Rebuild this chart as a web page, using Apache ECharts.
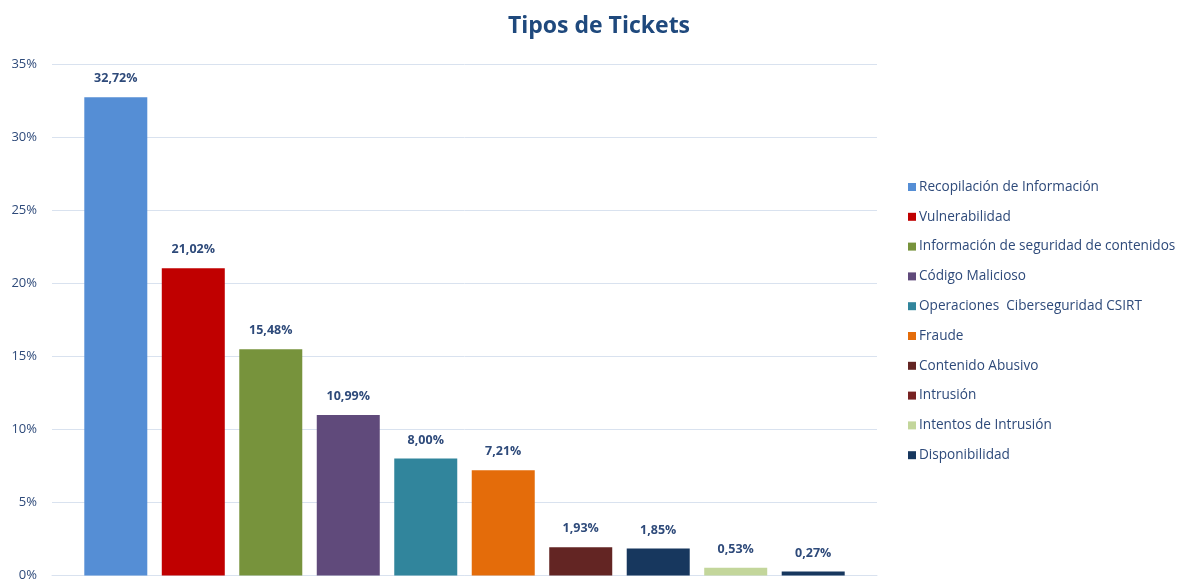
<!DOCTYPE html>
<html><head><meta charset="utf-8">
<script src="https://cdn.jsdelivr.net/npm/echarts@6/dist/echarts.min.js"></script>
<style>html,body{margin:0;padding:0;background:#fff}#c{width:1181px;height:582px}</style>
</head><body><div id="c"></div>
<script>
const categories = ['Recopilación de Información','Vulnerabilidad','Información de seguridad de contenidos','Código Malicioso','Operaciones  Ciberseguridad CSIRT','Fraude','Contenido Abusivo','Intrusión','Intentos de Intrusión','Disponibilidad'];
const values = [32.72, 21.02, 15.48, 10.99, 8.00, 7.21, 1.93, 1.85, 0.53, 0.27];
const barColors = ['#558ED5','#C00000','#77933C','#604A7B','#31859C','#E46C0A','#632523','#17375E','#C3D69B','#17375E'];
const legendColors = ['#558ED5','#C00000','#77933C','#604A7B','#31859C','#E46C0A','#632523','#772222','#C3D69B','#17375E'];
const yTicks = [0,5,10,15,20,25,30,35];

const txt = '#2E4A7A';
const series = categories.map((name, i) => ({
  name: name,
  type: 'bar',
  data: [values[i]],
  barWidth: 63,
  barGap: '23%',
  itemStyle: { color: barColors[i] },
  label: {
    show: true, position: 'top', distance: 12,
    color: txt, fontWeight: 'bold', fontSize: 12.5, fontFamily: 'Open Sans',
    formatter: p => p.value.toFixed(2).replace('.', ',') + '%'
  }
}));

const chart = echarts.init(document.getElementById('c'));
chart.setOption({
  animation: false,
  title: {
    text: 'Tipos de Tickets', left: 594, textAlign: 'center', top: 10,
    textStyle: { color: '#1F497D', fontSize: 23, fontWeight: 'bold', fontFamily: 'Open Sans' }
  },
  legend: {
    orient: 'vertical', left: 903, top: 175,
    itemWidth: 8, itemHeight: 8, itemGap: 15.8,
    icon: 'rect',
    data: categories.map((n, i) => ({ name: n, itemStyle: { color: legendColors[i] } })),
    textStyle: { color: txt, fontSize: 13.6, fontFamily: 'Open Sans', padding: [0,0,0,-2] }
  },
  grid: { left: 52, right: 304, top: 64, bottom: 4 },
  xAxis: {
    type: 'category', data: [''],
    axisLine: { show: true, lineStyle: { color: '#D9E2EF' } },
    axisTick: { show: false }, axisLabel: { show: false }
  },
  yAxis: {
    type: 'value', min: yTicks[0], max: yTicks[yTicks.length-1], interval: 5,
    axisLine: { show: false }, axisTick: { show: false },
    splitLine: { lineStyle: { color: '#D9E2EF', width: 1 } },
    axisLabel: { margin: 15, color: txt, fontSize: 13, fontFamily: 'Open Sans', formatter: v => v + '%' }
  },
  series: series
});
</script></body></html>
